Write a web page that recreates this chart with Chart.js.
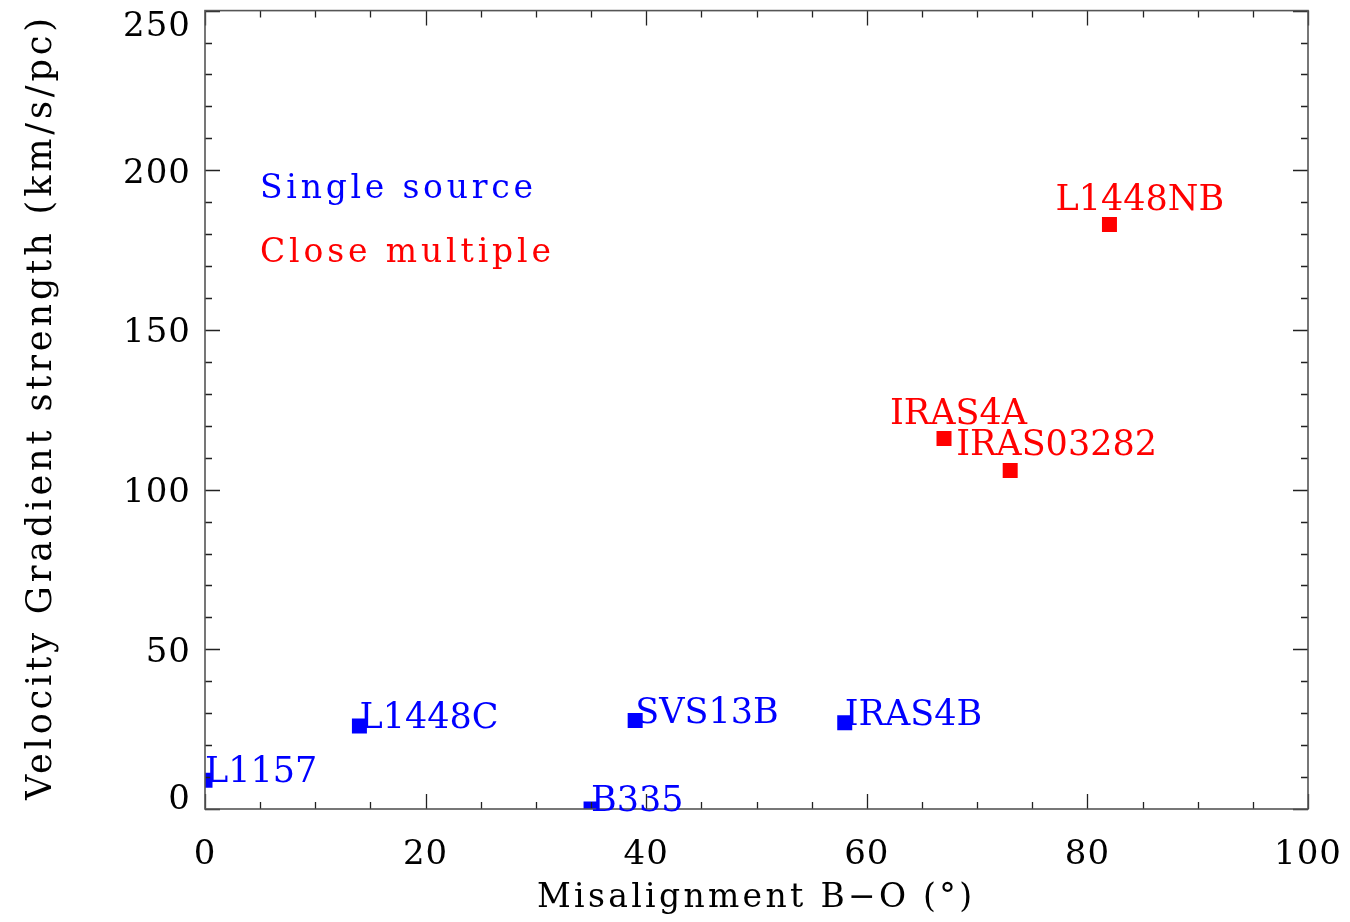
<!DOCTYPE html>
<html>
<head>
<meta charset="utf-8">
<script src="https://cdn.jsdelivr.net/npm/chart.js@4.4.1/dist/chart.umd.min.js"></script>
<style>
    html, body { margin: 0; padding: 0; background: #fff; }
    #wrap { width: 1350px; height: 922px; }
</style>
</head>
<body>
<div id="wrap"><canvas id="myChart" width="1350" height="922"></canvas></div>
<script>
(function () {
    "use strict";

    // single sources (blue)
    const singleNames = ['L1157', 'L1448C', 'B335', 'SVS13B', 'IRAS4B'];
    const singleX = [0, 14, 35, 39, 58];
    const singleY = [9, 26, 0, 27.7, 27];

    // close multiples (red)
    const multipleNames = ['IRAS4A', 'IRAS03282', 'L1448NB'];
    const multipleX = [67, 73, 82];
    const multipleY = [116, 106, 183];

    const xTicks = [0, 20, 40, 60, 80, 100];
    const yTicks = [0, 50, 100, 150, 200, 250];
    const legendLabels = ['Single source', 'Close multiple'];
    const xTitle = 'Misalignment B\u2212O (\u00b0)';
    const yTitle = 'Velocity Gradient strength (km/s/pc)';

    const SERIF = '"DejaVu Serif", "Liberation Serif", serif';
    const BLUE = '#0000ff';
    const RED = '#ff0000';

    // label offsets from the point, per series
    const labelOffset = [{ dx: 0, dy: 2 }, { dx: -54, dy: -15 }];

    // draw text stretched to a given width by letter spacing
    function fitText(ctx, text, left, y, width) {
        ctx.letterSpacing = '0px';
        const w = ctx.measureText(text).width;
        const gap = (width - w) / (text.length - 1);
        ctx.letterSpacing = gap + 'px';
        ctx.textAlign = 'left';
        ctx.fillText(text, left, y);
    }

    const framePlugin = {
        id: 'frame',
        beforeDraw(chart) {
            chart.ctx.letterSpacing = '1px';
        },
        afterDatasetsDraw(chart) {
            const ctx = chart.ctx;
            const area = chart.chartArea;
            const xs = chart.scales.x;
            const ys = chart.scales.y;

            ctx.save();
            // inward ticks on all four sides
            ctx.strokeStyle = '#222';
            ctx.lineWidth = 1.3;
            ctx.beginPath();
            for (let v = xs.min; v <= xs.max; v += 5) {
                const px = Math.round(xs.getPixelForValue(v)) + 0.5;
                const len = v % 20 === 0 ? 15 : 7;
                ctx.moveTo(px, area.bottom);
                ctx.lineTo(px, area.bottom - len);
                ctx.moveTo(px, area.top);
                ctx.lineTo(px, area.top + len);
            }
            for (let v = ys.min; v <= ys.max; v += 10) {
                const py = Math.round(ys.getPixelForValue(v)) + 0.5;
                const len = v % 50 === 0 ? 15 : 7;
                ctx.moveTo(area.left, py);
                ctx.lineTo(area.left + len, py);
                ctx.moveTo(area.right, py);
                ctx.lineTo(area.right - len, py);
            }
            ctx.stroke();

            // frame
            ctx.strokeStyle = '#555';
            ctx.lineWidth = 1.6;
            ctx.strokeRect(area.left, area.top, area.right - area.left, area.bottom - area.top);

            // y tick labels, kept inside the axis range like the original
            ctx.fillStyle = '#000';
            ctx.font = '34px ' + SERIF;
            ctx.letterSpacing = '1px';
            ctx.textAlign = 'right';
            ctx.textBaseline = 'alphabetic';
            ys.ticks.forEach(t => {
                let cy = ys.getPixelForValue(t.value);
                cy = Math.min(Math.max(cy, area.top + 13), area.bottom - 13);
                ctx.fillText(String(t.value), 191, cy + 12.5);
            });

            // point labels
            ctx.font = '35px ' + SERIF;
            ctx.letterSpacing = '0px';
            ctx.textAlign = 'left';
            chart.data.datasets.forEach((ds, i) => {
                const meta = chart.getDatasetMeta(i);
                const off = labelOffset[i];
                ctx.fillStyle = ds.borderColor;
                meta.data.forEach((pt, j) => {
                    ctx.fillText(ds.names[j], pt.x + off.dx, pt.y + off.dy);
                });
            });

            // legend text
            ctx.font = '33px ' + SERIF;
            ctx.fillStyle = BLUE;
            fitText(ctx, legendLabels[0], 260, 198, 273);
            ctx.fillStyle = RED;
            fitText(ctx, legendLabels[1], 260, 262, 291);

            // axis titles
            ctx.fillStyle = '#000';
            ctx.font = '33px ' + SERIF;
            fitText(ctx, xTitle, 537, 907, 435);

            ctx.translate(51, 409);
            ctx.rotate(-Math.PI / 2);
            ctx.font = '35px ' + SERIF;
            fitText(ctx, yTitle, -391, 0, 782);
            ctx.restore();
        }
    };

    function initChart() {
        const ctx = document.getElementById('myChart').getContext('2d');
        new Chart(ctx, {
            type: 'scatter',
            data: {
                datasets: [
                    {
                        label: legendLabels[0],
                        names: singleNames,
                        data: singleX.map((x, i) => ({ x: x, y: singleY[i] })),
                        backgroundColor: BLUE,
                        borderColor: BLUE,
                        borderWidth: 0,
                        pointStyle: 'rect',
                        pointRadius: 10.6,
                        clip: 0
                    },
                    {
                        label: legendLabels[1],
                        names: multipleNames,
                        data: multipleX.map((x, i) => ({ x: x, y: multipleY[i] })),
                        backgroundColor: RED,
                        borderColor: RED,
                        borderWidth: 0,
                        pointStyle: 'rect',
                        pointRadius: 10.6,
                        clip: 0
                    }
                ]
            },
            options: {
                responsive: false,
                animation: false,
                layout: { padding: { top: 7, right: 42, left: 0, bottom: 0 } },
                plugins: {
                    legend: { display: false },
                    tooltip: { enabled: false }
                },
                scales: {
                    x: {
                        type: 'linear',
                        min: 0,
                        max: 100,
                        grid: { display: false, drawTicks: false },
                        border: { display: false },
                        afterBuildTicks: s => { s.ticks = xTicks.map(v => ({ value: v })); },
                        afterFit: s => { s.height = 113; s.paddingLeft = 0; s.paddingRight = 0; },
                        ticks: {
                            font: { family: SERIF, size: 34 },
                            color: '#000',
                            padding: 26,
                            maxRotation: 0,
                            autoSkip: false
                        }
                    },
                    y: {
                        type: 'linear',
                        min: 0,
                        max: 250,
                        grid: { display: false, drawTicks: false },
                        border: { display: false },
                        afterBuildTicks: s => { s.ticks = yTicks.map(v => ({ value: v })); },
                        afterFit: s => { s.width = 205; s.paddingTop = 0; s.paddingBottom = 0; },
                        ticks: { display: false }
                    }
                }
            },
            plugins: [framePlugin]
        });
    }

    document.addEventListener('DOMContentLoaded', initChart);
})();
</script>
</body>
</html>
